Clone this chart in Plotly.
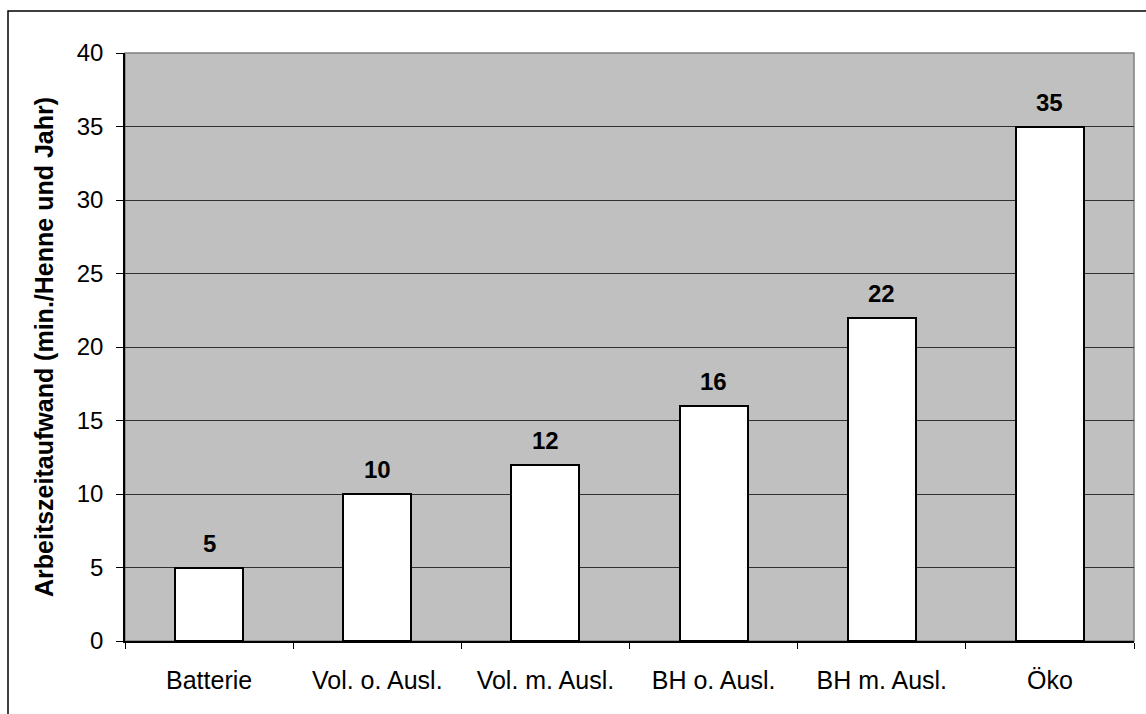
import plotly.graph_objects as go

# Arbeitszeitaufwand je Haltungssystem
categories = ["Batterie", "Vol. o. Ausl.", "Vol. m. Ausl.", "BH o. Ausl.", "BH m. Ausl.", "Öko"]
values = [5, 10, 12, 16, 22, 35]
y_ticks = [0, 5, 10, 15, 20, 25, 30, 35, 40]

W, H = 1146, 714
ML, MR, MT, MB = 125, 12, 53, 73
pw, ph = W - ML - MR, H - MT - MB
FONT = "Liberation Sans, Arial"

fig = go.Figure()
fig.add_trace(go.Bar(
    x=categories, y=values,
    width=0.405,
    marker=dict(color="white", line=dict(color="black", width=2)),
    showlegend=False, hoverinfo="skip",
))

for c, v in zip(categories, values):
    fig.add_annotation(
        x=c, y=v, text=f"<b>{v}</b>", showarrow=False,
        yanchor="bottom", yshift=9,
        font=dict(family=FONT, size=24, color="black"),
    )

# outer frame around the whole chart
def px_x(p):
    return (p - ML) / pw

def px_y(p):
    return (H - MB - p) / ph

fig.add_shape(
    type="rect", xref="paper", yref="paper",
    x0=px_x(8), x1=px_x(1160), y0=px_y(730), y1=px_y(11),
    line=dict(color="black", width=1.5), fillcolor="rgba(0,0,0,0)",
    layer="above",
)
# plot-area frame (top and right edges)
fig.add_shape(
    type="rect", xref="paper", yref="paper",
    x0=0, x1=1, y0=0, y1=1,
    line=dict(color="#808080", width=1.5), fillcolor="rgba(0,0,0,0)",
    layer="below",
)

fig.update_layout(
    width=W, height=H,
    margin=dict(l=ML, r=MR, t=MT, b=MB, autoexpand=False),
    paper_bgcolor="white", plot_bgcolor="#c0c0c0",
    font=dict(family=FONT, size=25, color="black"),
    bargap=0,
)
fig.update_xaxes(
    type="category", automargin=False,
    showline=True, linecolor="black", linewidth=1.5,
    ticks="outside", tickson="boundaries", ticklen=6, tickcolor="black", tickwidth=1,
    tickfont=dict(family=FONT, size=25), ticklabelstandoff=16,
    showgrid=False, zeroline=False,
)
fig.update_yaxes(
    range=[0, 40], tickvals=y_ticks, automargin=False,
    showline=True, linecolor="black", linewidth=1.5,
    ticks="outside", ticklen=7, tickcolor="black", tickwidth=1,
    showgrid=True, gridcolor="#303030", gridwidth=1, zeroline=False,
    tickfont=dict(family=FONT, size=24), ticklabelstandoff=8,
    title=dict(text="<b>Arbeitszeitaufwand (min./Henne und Jahr)</b>",
               font=dict(family=FONT, size=25), standoff=16),
)

fig.write_html("out.html")
